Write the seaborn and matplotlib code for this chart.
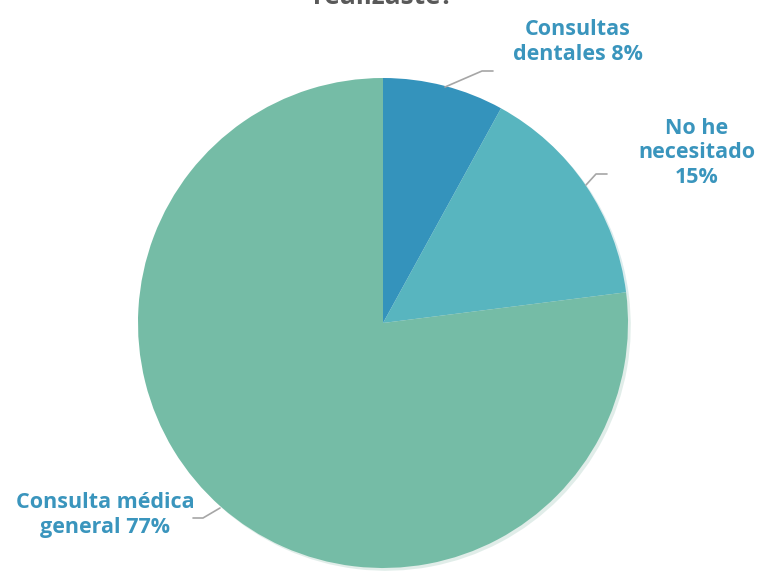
import matplotlib.pyplot as plt
import seaborn as sns

# datos
categorias = ["Consultas\ndentales", "No he\nnecesitado", "Consulta médica\ngeneral"]
porcentajes = [8, 15, 77]
colores = ["#3493BC", "#58B5BF", "#75BCA6"]
etiquetas = ["Consultas\ndentales 8%", "No he\nnecesitado\n15%", "Consulta médica\ngeneral 77%"]

sns.set_theme(style="white")
plt.rcParams['font.family'] = ['Open Sans', 'DejaVu Sans']

W, H = 758, 571
fig = plt.figure(figsize=(W / 100, H / 100), dpi=100)
ax = fig.add_axes([0, 0, 1, 1])

# pastel
ax.pie(porcentajes, colors=colores, startangle=90, counterclock=False,
       center=(383, H - 323), radius=245, frame=True,
       wedgeprops={'linewidth': 0},
       shadow={'ox': 2, 'oy': -2, 'shade': 0.1, 'alpha': 0.2})
ax.set_xlim(0, W)
ax.set_ylim(0, H)
ax.set_aspect('equal')
ax.axis('off')

# etiquetas y líneas guía
pos_texto = [(578, 42), (697, 153), (105, 515)]
guias = [
    [(445, 87), (482, 71), (493, 71)],
    [(586, 185), (596, 174), (607, 174)],
    [(220, 508), (203, 518), (193, 518)],
]
for txt, (tx, ty), g in zip(etiquetas, pos_texto, guias):
    ax.text(tx, H - ty, txt, ha='center', va='center', fontsize=15.5,
            fontweight='bold', color="#3A95BD", linespacing=1.2)
    ax.plot([p[0] for p in g], [H - p[1] for p in g], color="#A6A6A6", lw=1.2)

# título (cortado en la parte superior, como en el original)
fig.text(383 / W, 1 - 4 / H, "realizaste?", ha='center', va='baseline',
         fontsize=19, fontweight='bold', color="#595959")

fig.savefig("out.png", dpi=100)
